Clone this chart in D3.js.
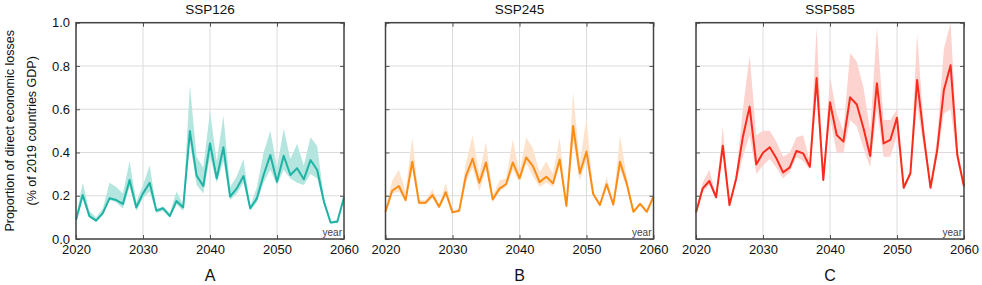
<!DOCTYPE html>
<html lang="en">
<head>
    <meta charset="UTF-8">
    <title>direct economic losses</title>
    <script src="https://cdn.jsdelivr.net/npm/d3@7"></script>
    <style>
        body{margin:0;background:#fff;}
        text{font-family:"Liberation Sans",Arial,sans-serif;}
    </style>
</head>
<body>
    <script>
             var years=d3.range(2020,2061);
             var xTicks=[2020,2030,2040,2050,2060];
             var yTicks=[0,0.2,0.4,0.6,0.8,1.0];
             var titles=["SSP126","SSP245","SSP585"];
             var letters=["A","B","C"];

             // SSP126
             var mid126=[0.088,0.203,0.106,0.085,0.12,0.188,0.18,0.162,0.273,0.146,0.211,0.26,0.131,0.142,0.106,0.176,0.146,0.499,0.293,0.245,0.442,0.28,0.424,0.196,0.234,0.291,0.142,0.188,0.296,0.388,0.265,0.385,0.296,0.327,0.276,0.365,0.319,0.173,0.076,0.08,0.193];
             var lo126=[0.08,0.19,0.1,0.08,0.11,0.18,0.17,0.14,0.24,0.13,0.19,0.22,0.12,0.13,0.1,0.16,0.13,0.45,0.25,0.21,0.38,0.26,0.36,0.18,0.21,0.26,0.13,0.17,0.26,0.32,0.25,0.32,0.28,0.26,0.25,0.3,0.28,0.16,0.07,0.075,0.18];
             var hi126=[0.1,0.26,0.13,0.1,0.14,0.26,0.24,0.21,0.36,0.17,0.25,0.34,0.14,0.15,0.12,0.22,0.16,0.71,0.38,0.33,0.59,0.36,0.57,0.24,0.29,0.37,0.15,0.24,0.4,0.5,0.33,0.51,0.37,0.44,0.34,0.47,0.43,0.19,0.08,0.09,0.2];
             // SSP245
             var mid245=[0.126,0.223,0.245,0.18,0.357,0.168,0.168,0.203,0.149,0.216,0.123,0.131,0.291,0.371,0.26,0.354,0.183,0.233,0.253,0.354,0.28,0.377,0.337,0.263,0.288,0.257,0.368,0.153,0.522,0.304,0.404,0.208,0.157,0.253,0.159,0.357,0.257,0.126,0.162,0.126,0.196];
             var lo245=[0.12,0.21,0.22,0.17,0.33,0.16,0.16,0.19,0.14,0.2,0.12,0.125,0.26,0.33,0.22,0.32,0.17,0.22,0.24,0.32,0.26,0.35,0.29,0.24,0.26,0.24,0.34,0.15,0.45,0.27,0.36,0.2,0.15,0.24,0.15,0.32,0.24,0.12,0.155,0.12,0.19];
             var hi245=[0.14,0.27,0.32,0.22,0.47,0.18,0.18,0.23,0.16,0.26,0.13,0.14,0.35,0.48,0.3,0.45,0.2,0.27,0.28,0.46,0.31,0.47,0.42,0.31,0.36,0.3,0.47,0.16,0.68,0.35,0.56,0.22,0.17,0.29,0.17,0.48,0.29,0.13,0.17,0.13,0.21];
             // SSP585
             var mid585=[0.123,0.234,0.268,0.193,0.431,0.157,0.28,0.473,0.612,0.345,0.399,0.424,0.373,0.308,0.331,0.407,0.396,0.334,0.744,0.273,0.632,0.481,0.45,0.655,0.622,0.512,0.384,0.72,0.442,0.458,0.561,0.237,0.304,0.735,0.473,0.237,0.411,0.689,0.803,0.388,0.242];
             var lo585=[0.12,0.22,0.25,0.19,0.4,0.15,0.26,0.38,0.48,0.3,0.34,0.37,0.33,0.28,0.31,0.38,0.36,0.32,0.66,0.26,0.56,0.4,0.4,0.55,0.52,0.42,0.33,0.6,0.38,0.38,0.48,0.23,0.29,0.62,0.42,0.23,0.38,0.58,0.6,0.36,0.23];
             var hi585=[0.13,0.26,0.32,0.2,0.52,0.16,0.3,0.6,0.85,0.48,0.5,0.5,0.45,0.38,0.4,0.47,0.48,0.36,0.98,0.29,0.75,0.58,0.5,0.86,0.82,0.7,0.5,0.98,0.55,0.55,0.6,0.25,0.31,0.95,0.52,0.25,0.47,0.88,1.0,0.42,0.25];

             var panels=[
                 {mid:mid126,lo:lo126,hi:hi126,line:"#1fb3a5",band:"#b4e5df"},
                 {mid:mid245,lo:lo245,hi:hi245,line:"#fb8c14",band:"#fde3cc"},
                 {mid:mid585,lo:lo585,hi:hi585,line:"#f92b1c",band:"#fdd3cf"}
             ];
             var lefts=[76,385.5,696];
             var pw=268, plotTop=22.7, plotBottom=239;

             var svg=d3.select("body").append("svg").attr("width",982).attr("height",285);

             var yScale=d3.scaleLinear().domain([0,1]).range([plotBottom,plotTop]);

             panels.forEach(function(p,k){
                 var x0=lefts[k];
                 var xScale=d3.scaleLinear().domain([2020,2060]).range([x0,x0+pw]);
                 var g=svg.append("g");
                 //网格
                 g.selectAll(".vg").data(xTicks).enter().append("line")
                     .attr("x1",xScale).attr("x2",xScale).attr("y1",plotTop).attr("y2",plotBottom)
                     .attr("stroke","#dcdcdc").attr("stroke-width",1);
                 g.selectAll(".hg").data(yTicks).enter().append("line")
                     .attr("x1",x0).attr("x2",x0+pw).attr("y1",yScale).attr("y2",yScale)
                     .attr("stroke","#dcdcdc").attr("stroke-width",1);

                 var rows=years.map(function(y,i){return {year:y,mid:p.mid[i],lo:p.lo[i],hi:p.hi[i]};});
                 var area=d3.area().x(function(d){return xScale(d.year);})
                     .y0(function(d){return yScale(d.lo);})
                     .y1(function(d){return yScale(Math.min(d.hi,1));});
                 var line=d3.line().x(function(d){return xScale(d.year);}).y(function(d){return yScale(d.mid);});
                 g.append("path").datum(rows).attr("d",area).attr("fill",p.band).attr("stroke","none");
                 g.append("path").datum(rows).attr("d",line).attr("fill","none")
                     .attr("stroke",p.line).attr("stroke-width",2).attr("stroke-linejoin","round");

                 //坐标轴
                 var xAxis=d3.axisBottom(xScale).tickValues(xTicks).tickSize(-4).tickPadding(6).tickFormat(d3.format("d"));
                 var gx=g.append("g").attr("transform","translate(0,"+plotBottom+")").call(xAxis);
                 gx.selectAll("text").attr("font-size","13px").attr("fill","#111").attr("font-family","Liberation Sans, Arial, sans-serif");
                 var xTop=d3.axisTop(xScale).tickValues(xTicks).tickSize(-4).tickFormat("");
                 g.append("g").attr("transform","translate(0,"+plotTop+")").call(xTop);
                 var yAxis=d3.axisLeft(yScale).tickValues(yTicks).tickSize(-4).tickPadding(6)
                     .tickFormat(k===0?d3.format(".1f"):"");
                 var gy=g.append("g").attr("transform","translate("+x0+",0)").call(yAxis);
                 gy.selectAll("text").attr("font-size","13px").attr("fill","#111").attr("font-family","Liberation Sans, Arial, sans-serif");
                 var yRight=d3.axisRight(yScale).tickValues(yTicks).tickSize(-4).tickFormat("");
                 g.append("g").attr("transform","translate("+(x0+pw)+",0)").call(yRight);
                 g.selectAll(".domain").remove();
                 g.selectAll(".tick line").attr("stroke","#555");

                 g.append("rect").attr("x",x0).attr("y",plotTop).attr("width",pw).attr("height",plotBottom-plotTop)
                     .attr("fill","none").attr("stroke","#444").attr("stroke-width",1.5);

                 g.append("text").attr("x",x0+pw-2).attr("y",plotBottom-3).attr("text-anchor","end")
                     .attr("font-size","10px").attr("fill","#444").text("year");
                 g.append("text").attr("x",x0+pw/2).attr("y",14).attr("text-anchor","middle")
                     .attr("font-size","13.5px").attr("fill","#111").text(titles[k]);
                 g.append("text").attr("x",x0+pw/2).attr("y",281).attr("text-anchor","middle")
                     .attr("font-size","16px").attr("fill","#111").text(letters[k]);
             });

             //y轴标题
             var cy=(plotTop+plotBottom)/2;
             svg.append("text").attr("transform","translate(14,"+cy+") rotate(-90)").attr("text-anchor","middle")
                 .attr("font-size","12.5px").attr("fill","#111").text("Proportion of direct economic losses");
             svg.append("text").attr("transform","translate(36,"+cy+") rotate(-90)").attr("text-anchor","middle")
                 .attr("font-size","12.5px").attr("fill","#111").text("(% of 2019 countries GDP)");
    </script>
</body>
</html>
